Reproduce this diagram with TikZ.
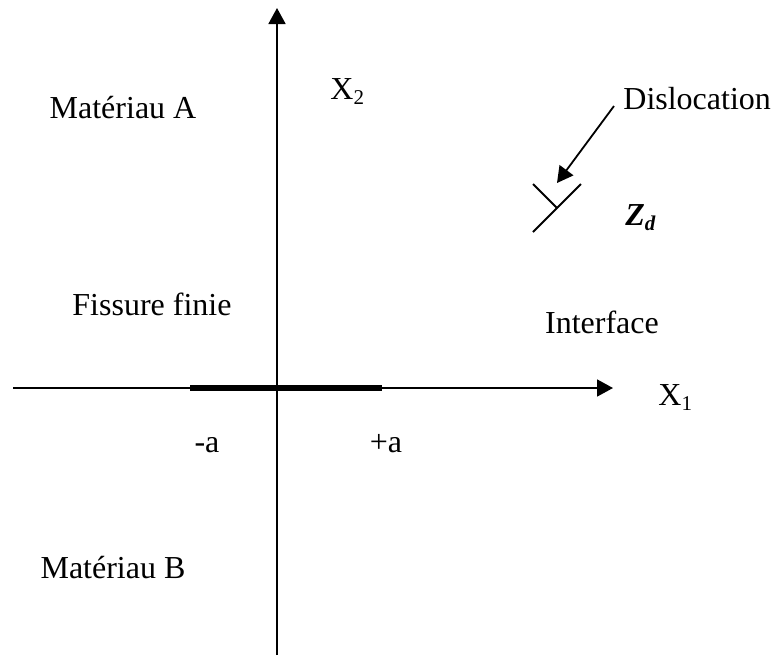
\documentclass[tikz,border=0pt]{standalone}
\usepackage{fontspec}
\setmainfont{Liberation Serif}
\usetikzlibrary{arrows.meta}
\newcommand{\indice}[1]{\raisebox{-0.4ex}{\fontsize{10.5}{12}\selectfont #1}}

\begin{document}
\begin{tikzpicture}[x=0.5pt,y=-0.5pt,
        axe/.style={line width=0.9pt,-{Triangle[length=8pt,width=8.5pt]}},
        txt/.style={inner sep=0pt,anchor=base,font=\fontsize{16}{19}\selectfont}]
            \useasboundingbox (0,0) rectangle (772,655);

            \coordinate (x1deb) at (13,388);
            \coordinate (x1fin) at (613,388);
            \coordinate (x2deb) at (277,655);
            \coordinate (x2fin) at (277,8);
            \coordinate (moinsa) at (190,388);
            \coordinate (plusa) at (382,388);
            \draw[axe] (x1deb) -- (x1fin);
            \draw[axe] (x2deb) -- (x2fin);
            \draw[line width=3pt] (moinsa) -- (plusa);

            \coordinate (zbas) at (533,232);
            \coordinate (zhaut) at (581,184);
            \coordinate (zpied) at (533,184);
            \coordinate (zd) at (557,208);
            \draw[line width=0.9pt] (zbas) -- (zhaut);
            \draw[line width=0.9pt] (zpied) -- (zd);

            \node[txt] (matA) at (123,118) {Matériau A};
            \node[txt] (matB) at (113,578) {Matériau B};
            \node[txt] (fiss) at (152,315) {Fissure finie};
            \node[txt] (inter) at (602,333) {Interface};
            \node[txt,anchor=base west] (lx2) at (330,99) {X\indice{2}};
            \node[txt,anchor=base west] (lx1) at (658,405) {X\indice{1}};
            \node[txt] (lma) at (207,452) {-a};
            \node[txt] (lpa) at (386,452) {+a};
            \node[txt,anchor=base west] (disl) at (623,109) {Dislocation};
            \node[txt,anchor=base west] (lzd) at (625,225) {\textbf{\textit{Z}}\indice{\textbf{\textit{d}}}};

            \coordinate (fdeb) at (614,106);
            \coordinate (ffin) at (557,183);
            \draw[axe] (fdeb) -- (ffin);
         \end{tikzpicture}
\end{document}
